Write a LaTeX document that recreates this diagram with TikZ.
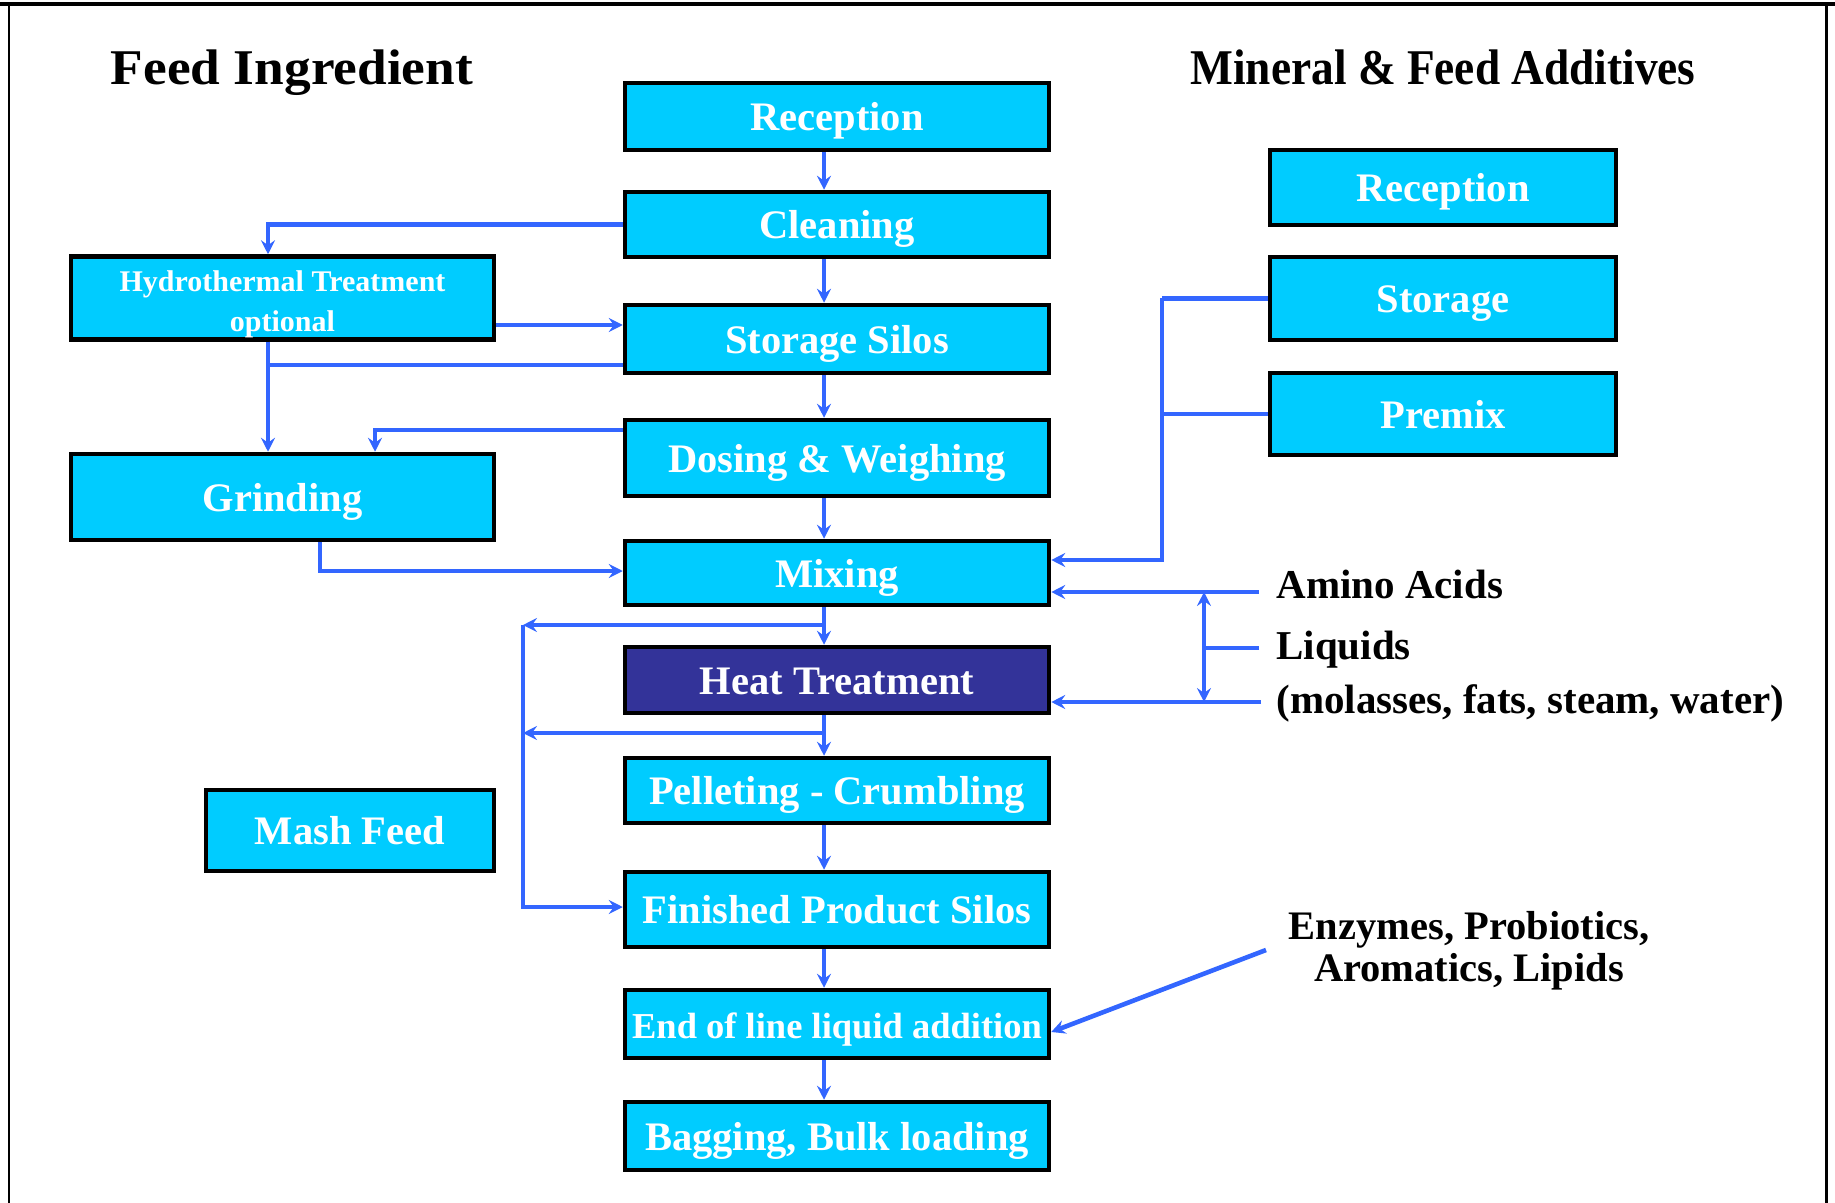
\documentclass[tikz,border=0pt]{standalone}
\usepackage{fontspec}
\setmainfont{Liberation Serif}
\usetikzlibrary{arrows.meta,calc}
\definecolor{boxcyan}{HTML}{00CCFF}
\definecolor{heatblue}{HTML}{333399}
\definecolor{flowblue}{HTML}{3366FF}

\begin{document}
\begin{tikzpicture}[x=0.5pt,y=-0.5pt,
  stepbox/.style={draw=black, line width=2.25pt, fill=boxcyan, text=white,
    font=\bfseries\fontsize{20.25pt}{24pt}\selectfont, inner sep=0pt, align=center},
  oneline/.style={text height=16.2pt, text depth=1.8pt},
  midbox/.style={stepbox, oneline, minimum width=212pt},
  sidebox/.style={stepbox, minimum width=211.5pt},
  addbox/.style={stepbox, oneline, minimum width=173pt},
  flow/.style={draw=flowblue, line width=2.3pt},
  arr/.style={flow, -{Stealth[length=7pt,width=7pt,inset=2.5pt]}},
  label/.style={font=\bfseries\fontsize{20.5pt}{21pt}\selectfont, text=black, inner sep=0pt},
  labline/.style={label, anchor=west, text height=14pt, text depth=0pt},
  title/.style={font=\bfseries\fontsize{25pt}{30pt}\selectfont, text=black, inner sep=0pt, anchor=base}
]
\useasboundingbox (0,0) rectangle (1835,1203);

% page frame
\draw[line width=2pt] (0,4.5) -- (1835,4.5);
\draw[line width=1pt] (9,4.5) -- (9,1203);
\draw[line width=1.5pt] (1826,4.5) -- (1826,1203);

% headings
\node[title] (tfeed) at (292,85) {\scalebox{1.067}[1]{Feed Ingredient}};
\node[title] (tmin) at (1443,85) {\scalebox{0.907}[1]{Mineral \& Feed Additives}};

% main process line
\node[midbox, minimum height=33.5pt] (rec) at (837,116.5) {Reception};
\node[midbox, minimum height=32.5pt] (cle) at (837,224.5) {Cleaning};
\node[midbox, minimum height=34pt] (sil) at (837,339) {Storage Silos};
\node[midbox, minimum height=38pt] (dos) at (837,458) {Dosing \& Weighing};
\node[midbox, minimum height=32pt] (mix) at (837,573) {Mixing};
\node[midbox, minimum height=33pt, fill=heatblue] (heat) at (837,680) {Heat Treatment};
\node[midbox, minimum height=32.5pt] (pel) at (837,790.5) {Pelleting - Crumbling};
\node[midbox, minimum height=37.5pt] (fin) at (837,909.5) {Finished Product Silos};
\node[midbox, minimum height=34pt, font=\bfseries\fontsize{18.25pt}{22pt}\selectfont] (eol) at (837,1024) {End of line liquid addition};
\node[midbox, minimum height=34pt] (bag) at (837,1136) {Bagging, Bulk loading};

% feed ingredient side
\node[sidebox, minimum height=41.5pt, font=\bfseries\fontsize{15pt}{20pt}\selectfont] (hyd) at (282.5,298)
  {\raisebox{-3pt}[\height][\depth]{\begin{tabular}{@{}c@{}}Hydrothermal Treatment\\optional\end{tabular}}};
\node[sidebox, oneline, minimum height=43pt] (gri) at (282.5,497) {Grinding};
\node[stepbox, oneline, minimum width=144pt, minimum height=40.5pt] (mash) at (350,830.5) {Mash Feed};

% mineral and additive side
\node[addbox, minimum height=37.5pt] (mrec) at (1443,187.5) {Reception};
\node[addbox, minimum height=41.5pt] (msto) at (1443,298.5) {Storage};
\node[addbox, minimum height=41pt] (mpre) at (1443,414) {Premix};

% side labels
\node[labline] (amino) at (1276,584) {Amino Acids};
\node[labline] (liq) at (1276,645) {Liquids};
\node[labline] (mol) at (1276,699) {(molasses, fats, steam, water)};
\node[label, align=center, font=\bfseries\fontsize{20.25pt}{21pt}\selectfont] (enz) at (1469,951) {Enzymes, Probiotics,\\Aromatics, Lipids};

% helper columns and rows
\coordinate (ax) at (824,0);
\coordinate (hx) at (268,0);
\coordinate (dx) at (375,0);
\coordinate (gx) at (320,0);
\coordinate (lx) at (523,0);
\coordinate (vx) at (1162,0);
\coordinate (jx) at (1204,0);
\coordinate (yh) at (0,325);
\coordinate (ys) at (0,365);
\coordinate (yd) at (0,430);
\coordinate (yg) at (0,571);
\coordinate (ym) at (0,560);
\coordinate (y1) at (0,625);
\coordinate (y2) at (0,733);
\coordinate (y3) at (0,907);
\coordinate (aa) at (1259,592);
\coordinate (lq) at (1261,702);
\coordinate (lm) at (1259,648);
\coordinate (en) at (1266,950);

% main downward flow
\draw[arr] (rec.south -| ax) -- (cle.north -| ax);
\draw[arr] (cle.south -| ax) -- (sil.north -| ax);
\draw[arr] (sil.south -| ax) -- (dos.north -| ax);
\draw[arr] (dos.south -| ax) -- (mix.north -| ax);
\draw[arr] (mix.south -| ax) -- (heat.north -| ax);
\draw[arr] (heat.south -| ax) -- (pel.north -| ax);
\draw[arr] (pel.south -| ax) -- (fin.north -| ax);
\draw[arr] (fin.south -| ax) -- (eol.north -| ax);
\draw[arr] (eol.south -| ax) -- (bag.north -| ax);

% ingredient side branches
\draw[arr] (cle.west) -- (cle.west -| hx) -- (hyd.north -| hx);
\draw[arr] (hyd.east |- yh) -- (sil.west |- yh);
\draw[arr] (hyd.south -| hx) -- (gri.north -| hx);
\draw[flow] (sil.west |- ys) -- (hx |- ys);
\draw[arr] (dos.west |- yd) -- (dx |- yd) -- (gri.north -| dx);
\draw[arr] (gri.south -| gx) -- (gx |- yg) -- (mix.west |- yg);

% mash feed bypass
\draw[arr] (ax |- y1) -- (lx |- y1);
\draw[arr] (ax |- y2) -- (lx |- y2);
\draw[arr] (lx |- y1) -- (lx |- y3) -- (fin.west |- y3);

% additives into mixing
\draw[flow] (msto.west) -- (vx |- msto.west);
\draw[flow] (mpre.west) -- (vx |- mpre.west);
\draw[arr] (vx |- msto.west) -- (vx |- ym) -- (mix.east |- ym);

% amino acids and liquids
\draw[arr] (aa) -- (mix.east |- aa);
\draw[arr] (lq) -- (heat.east |- lq);
\draw[flow] (lm) -- (jx |- lm);
\draw[arr] (jx |- lm) -- (jx |- aa);
\draw[arr] (jx |- lm) -- (jx |- lq);

% end of line additives
\draw[arr] (en) -- ([yshift=-4pt]eol.east);
\end{tikzpicture}
\end{document}
